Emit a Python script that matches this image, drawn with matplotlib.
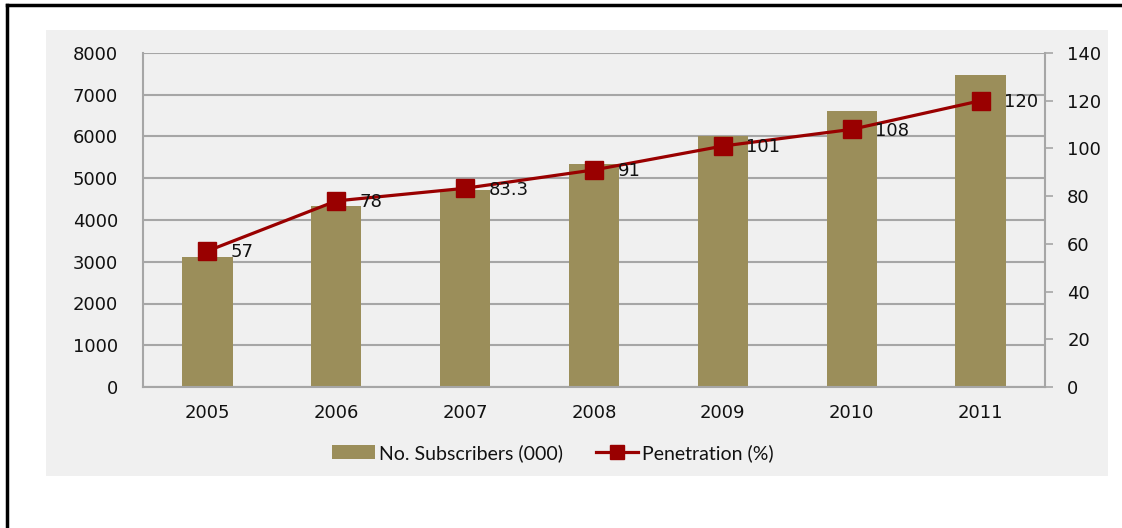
import matplotlib
matplotlib.use('Agg')
import matplotlib.pyplot as plt
from matplotlib.lines import Line2D
from matplotlib.patches import Rectangle, Patch
import numpy as np

# data
years = ['2005', '2006', '2007', '2008', '2009', '2010', '2011']
subscribers = [3120, 4340, 4720, 5330, 6020, 6620, 7470]   # No. Subscribers (000)
penetration = [57, 78, 83.3, 91, 101, 108, 120]          # Penetration (%)
penetration_labels = ['57', '78', '83.3', '91', '101', '108', '120']

BAR_COLOR = '#9b8e5a'
LINE_COLOR = '#990000'
PANEL_COLOR = '#f0f0f0'
GRID_COLOR = '#a6a6a6'
TEXT_COLOR = '#111111'

W, H = 1122, 528
fig = plt.figure(figsize=(W / 100, H / 100), dpi=100)
fig.patch.set_facecolor('white')

# gray chart panel
fig.add_artist(Rectangle((46 / W, 1 - 476 / H), (1108 - 46) / W, (476 - 30) / H,
                         transform=fig.transFigure, facecolor=PANEL_COLOR,
                         edgecolor='none', zorder=0))
# black page border (left and top only visible)
fig.add_artist(Line2D([7 / W, 7 / W], [0, 1 - 5 / H], transform=fig.transFigure,
                      color='black', lw=2.5))
fig.add_artist(Line2D([7 / W, 1], [1 - 5 / H, 1 - 5 / H], transform=fig.transFigure,
                      color='black', lw=2.5))

ax = fig.add_axes([143 / W, 1 - 387 / H, (1045 - 143) / W, (387 - 53) / H])
ax.set_facecolor('none')
x = np.arange(len(years))
ax.bar(x, subscribers, width=0.39, color=BAR_COLOR, zorder=2)
ax.set_xlim(-0.5, len(years) - 0.5)
ax.set_ylim(0, 8000)
ax.set_yticks(range(0, 8001, 1000))
ax.set_xticks(x)
ax.set_xticklabels(years)
ax.yaxis.grid(True, color=GRID_COLOR, lw=1.5, zorder=1)
ax.set_axisbelow(True)
for side in ['top', 'right']:
    ax.spines[side].set_visible(False)
for side in ['left', 'bottom']:
    ax.spines[side].set_color(GRID_COLOR)
    ax.spines[side].set_linewidth(1.5)
ax.tick_params(axis='y', length=0, pad=18, labelsize=13, colors=TEXT_COLOR)
ax.tick_params(axis='x', length=0, pad=12, labelsize=13, colors=TEXT_COLOR)

ax2 = ax.twinx()
ax2.plot(x, penetration, color=LINE_COLOR, lw=2.3, marker='s', markersize=13.5,
         zorder=4)
ax2.set_ylim(0, 140)
ax2.set_yticks(range(0, 141, 20))
for side in ['top', 'left', 'bottom']:
    ax2.spines[side].set_visible(False)
ax2.spines['right'].set_color(GRID_COLOR)
ax2.spines['right'].set_linewidth(1.5)
ax2.tick_params(axis='y', length=6, width=1.2, color=GRID_COLOR, pad=10,
                labelsize=13, labelcolor=TEXT_COLOR)

for xi, yi, lab in zip(x, penetration, penetration_labels):
    ax2.annotate(lab, (xi, yi), xytext=(17, -1), textcoords='offset points',
                 ha='left', va='center', fontsize=13, color=TEXT_COLOR, zorder=5)

handles = [Patch(facecolor=BAR_COLOR, edgecolor='none'),
           Line2D([], [], color=LINE_COLOR, lw=2.3, marker='s', markersize=10)]
leg = fig.legend(handles, ['No. Subscribers (000)', 'Penetration (%)'],
                 loc='center', bbox_to_anchor=(553 / W, 1 - 453 / H), ncol=2,
                 frameon=False, prop={'family': 'Lato', 'size': 14},
                 handlelength=2.2, handletextpad=0.2, columnspacing=1.7)
for t in leg.get_texts():
    t.set_color(TEXT_COLOR)

fig.savefig('out.png', dpi=100, facecolor='white')
